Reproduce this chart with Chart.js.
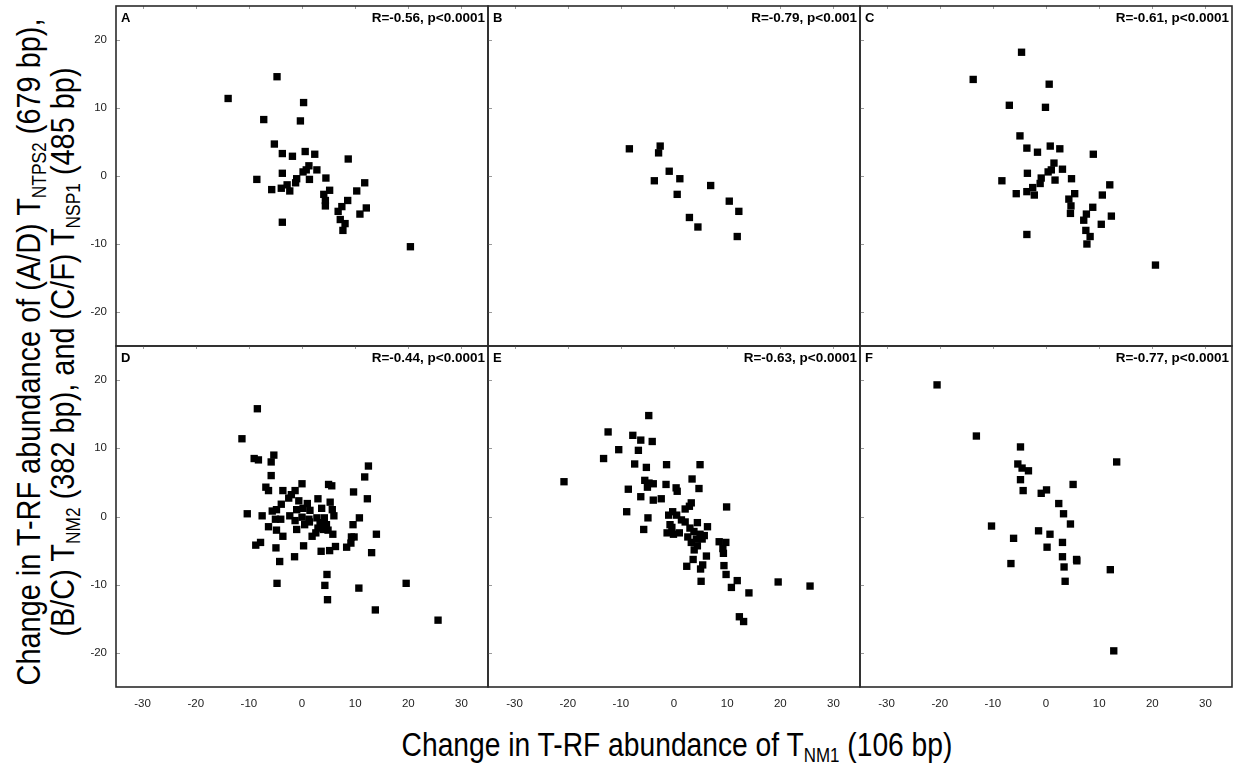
<!DOCTYPE html>
<html>
<head>
<meta charset="utf-8">
<script src="https://cdn.jsdelivr.net/npm/chart.js@4.4.1/dist/chart.umd.min.js"></script>
<style>
  html, body { margin: 0; padding: 0; background: #fff; }
  #wrap { position: relative; width: 1239px; height: 764px; overflow: hidden; background: #fff; }
  canvas { position: absolute; }
  .ttl { position: absolute; font-family: "Liberation Sans", Arial, sans-serif; color: #000; white-space: nowrap; }
  .ttl sub { font-size: 0.6em; vertical-align: -0.3em; line-height: 0; }
  #xtitle { font-size: 34px; transform: translate(-50%, -50%) scaleX(0.83); }
  #ytitle { font-size: 34px; line-height: 34px; text-align: center; transform: translate(-50%, -50%) rotate(-90deg) scaleX(0.85); }
</style>
</head>
<body>
<div id="wrap">
  <div id="xtitle" class="ttl" style="left:677px; top:744px;">Change in T-RF abundance of T<sub>NM1</sub> (106 bp)</div>
  <div id="ytitle" class="ttl" style="left:45px; top:352px;">
    <div>Change in T-RF abundance of (A/D) T<sub>NTPS2</sub> (679 bp),</div>
    <div>(B/C) T<sub>NM2</sub> (382 bp), and (C/F) T<sub>NSP1</sub> (485 bp)</div>
  </div>
</div>
<script>
// ---------------- DATA ----------------
const xTickValues = [-30, -20, -10, 0, 10, 20, 30];
const yTickValues = [-20, -10, 0, 10, 20];
const xLimits = [-35, 35];
const yLimits = [-25, 25];

const panelLetters = ['A', 'B', 'C', 'D', 'E', 'F'];
const corrLabels = ['R=-0.56, p<0.0001', 'R=-0.79, p<0.001', 'R=-0.61, p<0.0001',
                    'R=-0.44, p<0.0001', 'R=-0.63, p<0.0001', 'R=-0.77, p<0.0001'];

const A_x = [-4.7,-13.9,0.3,-7.2,-0.3,-5.2,-3.7,-1.8,0.6,2.4,8.7,1.3,2.8,0.2,0.8,-3.7,-8.5,-1.0,1.4,4.5,11.8,-1.2,-2.8,-3.9,-5.7,-2.3,5.2,10.3,4.1,4.4,8.6,4.4,7.5,12.1,6.8,10.9,-3.7,7.2,8.1,7.7,20.4];
const A_y = [14.6,11.4,10.8,8.3,8.1,4.7,3.3,2.9,3.6,3.2,2.5,1.5,0.9,0.6,0.9,0.4,-0.5,-0.4,-0.5,-0.3,-1.0,-1.0,-1.3,-1.8,-2.0,-2.2,-2.1,-2.2,-2.7,-3.6,-3.6,-4.4,-4.5,-4.7,-5.2,-5.6,-6.8,-6.4,-7.0,-8.0,-10.4];

const B_x = [-8.4,-2.6,-2.9,-0.9,-3.7,1.1,6.9,0.6,10.4,12.2,2.9,4.5,11.9];
const B_y = [4.0,4.4,3.4,0.7,-0.7,-0.4,-1.4,-2.7,-3.7,-5.2,-6.1,-7.5,-8.9];

const C_x = [-4.6,-13.7,0.6,-6.9,-0.1,-4.9,-3.6,-1.6,0.8,2.6,8.9,1.5,3.1,1.0,0.4,-3.5,-8.3,-0.9,1.7,4.8,12.0,-1.1,-2.5,-3.6,-5.6,-2.2,5.4,10.6,4.3,4.7,8.8,4.6,7.6,12.3,7.1,10.4,-3.6,7.5,8.3,7.7,20.6];
const C_y = [18.2,14.2,13.5,10.4,10.1,5.9,4.1,3.5,4.4,4.0,3.2,1.9,1.0,0.9,0.6,0.4,-0.7,-0.3,-0.6,-0.4,-1.3,-1.1,-1.7,-2.3,-2.6,-2.8,-2.6,-2.8,-3.4,-4.4,-4.6,-5.5,-5.6,-5.9,-6.5,-7.1,-8.6,-8.0,-8.9,-10.0,-13.1];

const D_x = [-8.4,-11.3,-9.0,-8.2,-5.3,-5.8,-5.8,12.5,11.8,-6.8,-6.3,-3.6,-1.3,0.0,5.0,5.6,9.7,12.3,-2.5,-0.6,1.0,3.0,5.3,-3.9,-10.3,-7.5,-5.6,-4.8,-2.3,-1.0,1.5,3.7,5.7,6.0,-5.0,-4.0,-1.3,0.0,1.3,2.8,4.2,10.8,0.5,3.4,4.6,9.6,-6.3,-4.8,-1.0,4.0,4.9,-3.6,1.9,2.6,5.8,9.3,9.8,14.0,-8.7,-7.8,-4.9,0.3,3.6,5.2,6.3,8.4,9.2,13.1,-4.2,-1.4,4.7,-4.7,4.3,10.7,19.6,4.8,13.8,25.6,1.4,3.0,0.2,-2.0];
const D_y = [15.8,11.4,8.5,8.3,9.0,8.0,6.0,7.4,5.8,4.3,3.8,3.8,3.8,4.8,4.7,4.5,3.6,2.6,2.7,2.3,1.9,2.6,2.1,1.8,0.4,0.1,0.8,1.0,0.1,1.0,0.9,1.2,1.0,0.1,-0.4,-0.4,-0.6,-0.1,-0.4,-0.2,-0.2,-0.2,-1.2,-0.9,-1.2,-1.2,-1.5,-2.0,-1.9,-1.9,-2.0,-2.9,-2.9,-2.4,-2.6,-3.0,-3.0,-2.6,-4.2,-3.8,-4.6,-4.3,-5.1,-5.0,-4.4,-4.5,-3.9,-5.3,-6.6,-5.9,-8.5,-9.8,-10.1,-10.5,-9.8,-12.2,-13.7,-15.2,-0.8,-1.7,1.2,3.2];

const E_x = [-4.75,-12.4,-7.75,-6.25,-4.1,-10.4,-6.7,-13.25,-7.4,-5.2,-1.4,4.9,-20.7,-5.5,-4.7,-3.9,-5.0,-1.5,3.4,0.4,0.6,4.7,-8.6,-6.25,-3.9,-2.4,3.25,2.9,2.1,9.9,-8.9,-4.9,-1.0,-0.25,0.5,1.4,2.1,4.4,-5.7,-0.75,-0.4,3.0,6.3,-1.3,-0.1,1.0,3.75,4.9,5.7,2.6,4.2,5.3,3.25,8.5,9.75,4.4,3.8,9.2,9.3,6.1,3.6,2.4,5.4,5.0,9.4,9.8,5.1,11.9,10.8,14.1,19.6,25.6,12.3,13.1];
const E_y = [14.8,12.4,11.9,11.2,11.0,9.8,9.7,8.5,7.7,7.2,7.6,7.6,5.1,5.3,4.9,4.8,4.3,4.7,5.5,4.2,3.7,4.1,4.0,2.9,2.4,2.6,2.0,1.5,1.1,1.4,0.7,-0.2,0.2,0.7,0.2,-0.5,-0.8,-0.9,-1.9,-1.2,-1.6,-1.7,-1.5,-2.4,-2.6,-2.4,-2.2,-2.6,-2.8,-3.0,-3.3,-3.3,-3.8,-3.7,-3.8,-4.3,-4.9,-4.7,-5.4,-5.8,-6.3,-7.3,-7.1,-7.7,-7.2,-8.5,-9.5,-9.4,-10.4,-11.2,-9.6,-10.2,-14.7,-15.4];

const F_x = [-20.5,-13.1,-4.8,13.3,-5.3,-4.5,-3.3,-4.8,5.1,-4.3,0.1,-0.9,2.4,3.3,4.6,-10.25,-1.4,0.75,-6.1,3.1,0.2,3.1,5.75,5.8,-6.6,3.4,12.1,3.6,12.75];
const F_y = [19.3,11.8,10.2,8.0,7.7,7.1,6.7,5.4,4.7,3.8,3.9,3.4,1.9,0.4,-1.1,-1.4,-2.1,-2.6,-3.2,-3.8,-4.5,-5.9,-6.3,-6.5,-6.9,-7.4,-7.8,-9.5,-19.7];

// ---------------- LAYOUT ----------------
const panelSeries = [[A_x, A_y], [B_x, B_y], [C_x, C_y], [D_x, D_y], [E_x, E_y], [F_x, F_y]];
const colLeft = [116, 488, 860, 1232];
const rowTop = [6, 346, 687];
const M = 3;          // margin around each chart area
const Y_AXIS_W = 50;  // room for y tick labels (left column)
const X_AXIS_H = 30;  // room for x tick labels (bottom row)
const FONT = '"Liberation Sans", Arial, sans-serif';

const panelDecor = {
  id: 'panelDecor',
  afterDraw(chart, args, opts) {
    const { ctx, chartArea: a, scales } = chart;
    ctx.save();
    // inward tick marks
    ctx.strokeStyle = '#9a9a9a';
    ctx.lineWidth = 1;
    ctx.beginPath();
    yTickValues.forEach(v => {
      const py = Math.round(scales.y.getPixelForValue(v)) + 0.5;
      ctx.moveTo(a.left, py); ctx.lineTo(a.left + 4, py);
    });
    xTickValues.forEach(v => {
      const px = Math.round(scales.x.getPixelForValue(v)) + 0.5;
      ctx.moveTo(px, a.top); ctx.lineTo(px, a.top + 3);
    });
    ctx.stroke();
    // frame
    ctx.strokeStyle = '#2b2b2b';
    ctx.lineWidth = 1.6;
    ctx.strokeRect(a.left, a.top, a.right - a.left, a.bottom - a.top);
    // panel letter and correlation text
    ctx.fillStyle = '#000';
    ctx.font = 'bold 13px ' + FONT;
    ctx.textBaseline = 'middle';
    ctx.textAlign = 'left';
    ctx.fillText(opts.letter, a.left + 5, a.top + 12);
    ctx.font = 'bold 13.5px ' + FONT;
    ctx.textAlign = 'right';
    ctx.fillText(opts.corr, a.right - 3, a.top + 12);
    ctx.restore();
  }
};

function zeroPad(s) { s.paddingTop = 0; s.paddingBottom = 0; s.paddingLeft = 0; s.paddingRight = 0; }

const wrap = document.getElementById('wrap');

panelSeries.forEach((pair, i) => {
  const r = Math.floor(i / 3), c = i % 3;
  const pw = colLeft[c + 1] - colLeft[c];
  const ph = rowTop[r + 1] - rowTop[r];
  const yW = c === 0 ? Y_AXIS_W : 0;
  const xH = r === 1 ? X_AXIS_H : 0;
  const W = M + yW + pw + M;
  const H = M + ph + xH + M;
  const cv = document.createElement('canvas');
  cv.width = W; cv.height = H;
  cv.style.width = W + 'px'; cv.style.height = H + 'px';
  cv.style.left = (colLeft[c] - M - yW) + 'px';
  cv.style.top = (rowTop[r] - M) + 'px';
  wrap.appendChild(cv);

  const [xs, ys] = pair;
  const pts = xs.map((x, k) => ({ x: x, y: ys[k] }));

  new Chart(cv.getContext('2d'), {
    type: 'scatter',
    data: {
      datasets: [{
        data: pts,
        pointStyle: 'rect',
        pointRadius: 5.2,
        pointHoverRadius: 5.2,
        backgroundColor: '#000',
        borderColor: '#000',
        borderWidth: 0,
        clip: false
      }]
    },
    options: {
      responsive: false,
      maintainAspectRatio: false,
      devicePixelRatio: 1,
      animation: false,
      events: [],
      layout: { autoPadding: false, padding: { left: M, right: M, top: M, bottom: M } },
      plugins: {
        legend: { display: false },
        tooltip: { enabled: false },
        title: { display: false },
        panelDecor: { letter: panelLetters[i], corr: corrLabels[i] }
      },
      scales: {
        x: {
          type: 'linear',
          min: xLimits[0], max: xLimits[1],
          afterBuildTicks: s => { s.ticks = xTickValues.map(v => ({ value: v })); },
          afterFit: s => { s.height = xH; zeroPad(s); },
          grid: { display: false, drawTicks: false },
          border: { display: false },
          ticks: {
            display: r === 1,
            padding: 10,
            color: '#222',
            font: { family: FONT, size: 11.5 },
            maxRotation: 0,
            autoSkip: false
          }
        },
        y: {
          type: 'linear',
          min: yLimits[0], max: yLimits[1],
          afterBuildTicks: s => { s.ticks = yTickValues.map(v => ({ value: v })); },
          afterFit: s => { s.width = yW; zeroPad(s); },
          grid: { display: false, drawTicks: false },
          border: { display: false },
          ticks: {
            display: c === 0,
            padding: 9,
            color: '#222',
            font: { family: FONT, size: 11.5 },
            autoSkip: false
          }
        }
      }
    },
    plugins: [panelDecor]
  });
});
</script>
</body>
</html>
